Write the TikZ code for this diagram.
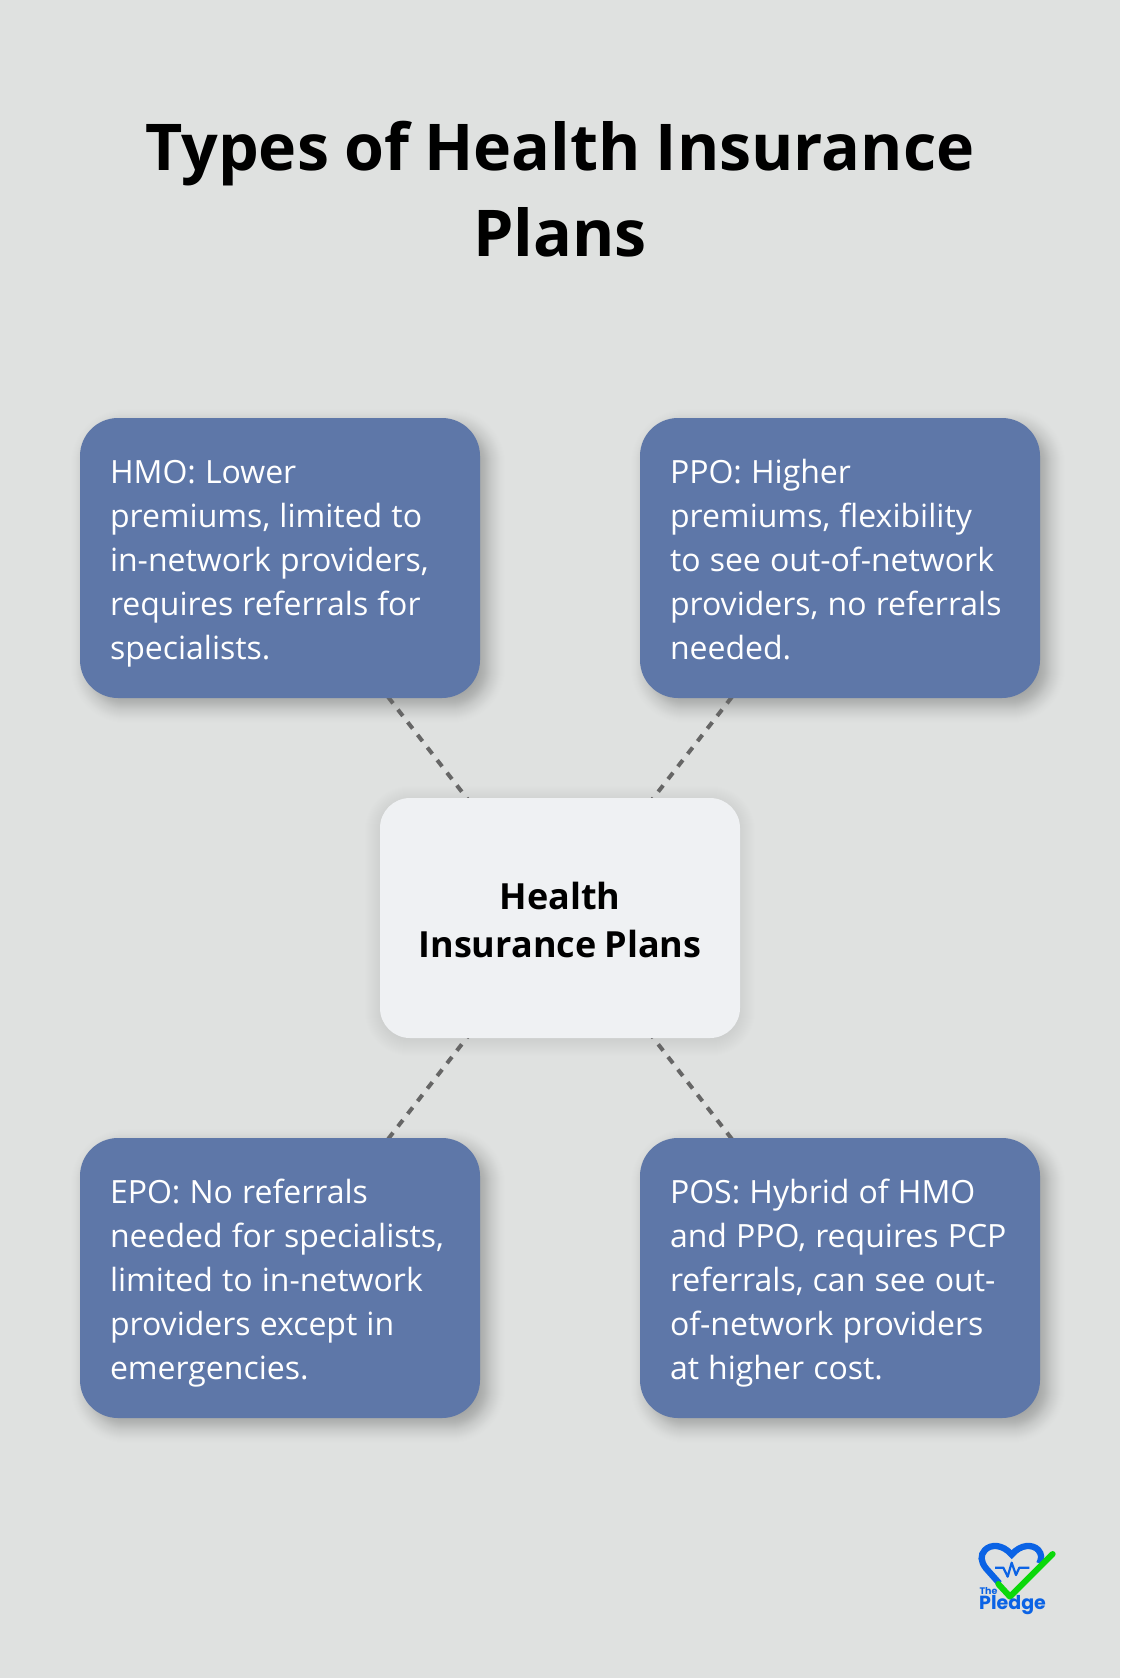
\documentclass[tikz,border=0pt]{standalone}
\usepackage{fontspec}
\setmainfont{Open Sans}[BoldFeatures={WordSpace=0.9}]
\newfontfamily\logofont{Poppins}
\usetikzlibrary{calc}
\definecolor{bgc}{HTML}{DFE1E0}
\definecolor{boxblue}{HTML}{5E77A8}
\definecolor{centerc}{HTML}{EFF1F3}
\definecolor{linec}{HTML}{666666}
\definecolor{logoblue}{HTML}{0B63E5}
\definecolor{logogreen}{HTML}{0BD80B}
\pgfdeclarelayer{bglayer}
\pgfdeclarelayer{shadowlayer}
\pgfdeclarelayer{linelayer}
\pgfsetlayers{bglayer,shadowlayer,linelayer,main}
\tikzset{
  planbox/.style={fill=boxblue,text=white,rounded corners=38pt,minimum width=400pt,minimum height=280pt,inner sep=0pt,
    text width=340pt,align=left,font=\fontsize{32pt}{44pt}\selectfont,
    execute at begin node={\spaceskip=.285em\relax\rule{0pt}{36pt}},execute at end node=\rule[-10pt]{0pt}{10pt}},
  hubbox/.style={fill=centerc,text=black,rounded corners=30pt,minimum width=360pt,minimum height=240pt,inner sep=0pt,
    text width=340pt,align=center,font=\fontsize{36pt}{48pt}\selectfont\bfseries,
    execute at begin node={\spaceskip=.225em\relax\rule{0pt}{39pt}},execute at end node=\rule[-8pt]{0pt}{8pt}},
  titlenode/.style={text=black,align=center,inner sep=0pt,font=\fontsize{64.5pt}{86pt}\selectfont\bfseries},
  link/.style={draw=linec,line width=4pt,dash pattern=on 8pt off 8pt},
  logotext/.style={text=logoblue,inner sep=0pt,anchor=base west},
}
% soft shadow: stacked translucent rounded rectangles, denser toward the middle
\newcommand{\softshadow}[5]{% node, dx, dy, radius, opacity scale
  \foreach \d [evaluate=\d as \r using {max(#4+\d,1)},
               evaluate=\d as \o using {#5*(1.02-(abs(\d)/19)^2)}] in {-18,-17,...,18}{
    \fill[black,opacity=\o,rounded corners=\r pt]
      ($(#1.south west)+(#2-\d,#3+\d)$) rectangle ($(#1.north east)+(#2+\d,#3-\d)$);
  }}
\begin{document}
\begin{tikzpicture}[x=1pt,y=-1pt]
\useasboundingbox (0,0) rectangle (1120,1678);
\begin{pgfonlayer}{bglayer}
\fill[bgc] (0,0) rectangle (1120,1678);
\end{pgfonlayer}
\node[titlenode] (title) at (560,189) {Types of Health Insurance\\Plans};
\node[planbox] (hmo) at (280,558) {HMO: Lower\\premiums, limited to\\in-network providers,\\requires referrals for\\specialists.};
\node[planbox] (ppo) at (840,558) {PPO: Higher\\premiums, flexibility\\to see out-of-network\\providers, no referrals\\needed.};
\node[planbox] (epo) at (280,1278) {EPO: No referrals\\needed for specialists,\\limited to in-network\\providers except in\\emergencies.};
\node[planbox] (pos) at (840,1278) {POS: Hybrid of HMO\\and PPO, requires PCP\\referrals, can see out-\\of-network providers\\at higher cost.};
\node[hubbox] (hub) at (560,918) {Health\\Insurance Plans};
\begin{pgfonlayer}{shadowlayer}
  \softshadow{hmo}{8}{8}{38}{0.010}
  \softshadow{ppo}{8}{8}{38}{0.010}
  \softshadow{epo}{8}{8}{38}{0.010}
  \softshadow{pos}{8}{8}{38}{0.010}
  \softshadow{hub}{0}{3}{30}{0.005}
\end{pgfonlayer}
\begin{pgfonlayer}{linelayer}
  \draw[link] (hub.center) -- (hmo.center);
  \draw[link] (hub.center) -- (ppo.center);
  \draw[link] (hub.center) -- (epo.center);
  \draw[link] (hub.center) -- (pos.center);
\end{pgfonlayer}
% logo, in the coordinates of a 3x crop
\begin{scope}[shift={(960,1520)},x=0.3333pt,y=-0.3333pt]
  \draw[logoblue,line width=6.3pt]
    (118,190) -- (78,145) .. controls (62,125) and (60,105) .. (75,90)
    .. controls (92,72) and (128,72) .. (155,104)
    .. controls (182,72) and (218,72) .. (235,90)
    .. controls (245,102) and (246,115) .. (238,130);
  \draw[logoblue,line width=2.2pt,line join=round]
    (105,143) -- (130,143) -- (143,170) -- (155,128) -- (168,165) -- (178,143) -- (208,143);
  \draw[logogreen,line width=6pt,line cap=round,line join=round]
    (115,192) -- (150,230) -- (278,102);
  \node[logotext,font=\logofont\bfseries\fontsize{9.5pt}{9.5pt}\selectfont] (logothe) at (58,224) {The};
  \node[logotext,font=\logofont\bfseries\fontsize{19pt}{19pt}\selectfont] (logoname) at (57,269) {Pledge};
\end{scope}
\end{tikzpicture}
\end{document}
